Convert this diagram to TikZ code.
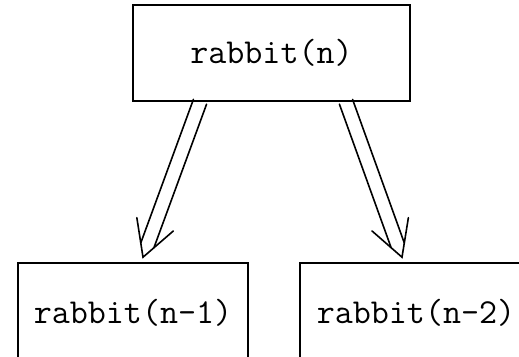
\documentclass[tikz,border=0pt]{standalone}
\usetikzlibrary{calc}
\tikzset{
  box/.style={draw, line width=1.6pt, inner sep=0pt, font=\fontsize{35}{42}\selectfont\ttfamily},
  arrowline/.style={line width=1.6pt, line cap=round, line join=miter}
}
\newcommand\dblarrow[2]{%
  \coordinate (pa) at ($(#1)!7pt!90:(#2)$);
  \coordinate (qa) at ($(#1)!7pt!-90:(#2)$);
  \coordinate (bb) at ($(#2)!12.6pt!(#1)$);
  \coordinate (pb) at ($(bb)!7pt!-90:(#1)$);
  \coordinate (qb) at ($(bb)!7pt!90:(#1)$);
  \coordinate (w1) at ($(#2)!40pt!29:(#1)$);
  \coordinate (w2) at ($(#2)!40pt!-29:(#1)$);
  \draw[arrowline] (pa) -- (pb);
  \draw[arrowline] (qa) -- (qb);
  \draw[arrowline] (w1) -- (#2) -- (w2);
}
\begin{document}
\begin{tikzpicture}[x=1pt,y=1pt]
\useasboundingbox (0,0) rectangle (519,356);
\clip (0,0) rectangle (519,356);
\node[box, minimum width=277pt, minimum height=96pt] (top) at (271.5,303) {rabbit(n)};
\node[box, minimum width=230pt, minimum height=100pt] (l) at (133,43) {rabbit(n-1)};
\node[box, minimum width=232pt, minimum height=100pt] (r) at (416,43) {rabbit(n-2)};
\coordinate (ls) at ($(top.south)+(-71.5,0)$);
\coordinate (lt) at ($(l.north)+(10,5)$);
\coordinate (rs) at ($(top.south)+(74.5,0)$);
\coordinate (rt) at ($(r.north)+(-14,5)$);
\dblarrow{ls}{lt}
\dblarrow{rs}{rt}
\end{tikzpicture}
\end{document}
